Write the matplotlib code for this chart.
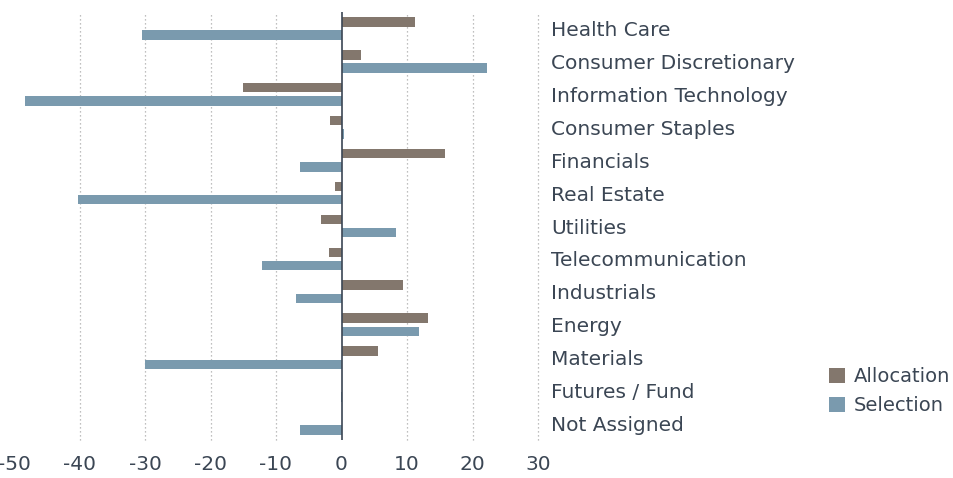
import numpy as np
import matplotlib
matplotlib.use("Agg")
from matplotlib import pyplot as plt

sectors = ['Health Care', 'Consumer Discretionary', 'Information Technology',
           'Consumer Staples', 'Financials', 'Real Estate', 'Utilities',
           'Telecommunication', 'Industrials', 'Energy', 'Materials',
           'Futures / Fund', 'Not Assigned']
allocation = [11.2, 3.0, -15.0, -1.7, 15.8, -1.0, -3.1, -1.9, 9.4, 13.2, 5.6, 0.0, 0.0]
selection = [-30.4, 22.2, -48.3, 0.4, -6.3, -40.2, 8.3, -12.1, -6.9, 11.8, -30.0, -0.1, -6.3]
xticks = [-50, -40, -30, -20, -10, 0, 10, 20, 30]

c_alloc = '#83776d'
c_sel = '#7a9aae'
txt = '#3b4654'
fs = 14.5

fig = plt.figure(figsize=(9.54, 4.78), dpi=100)
ax = fig.add_axes([14/954, 1-440/478, (538-14)/954, (440-12)/478])

y = np.arange(len(sectors))
h = 0.29
ax.barh(y - 0.2, allocation, height=h, color=c_alloc, label='Allocation', zorder=2)
ax.barh(y + 0.2, selection, height=h, color=c_sel, label='Selection', zorder=2)

ax.set_xlim(-50, 30)
ax.set_ylim(len(sectors) - 0.5, -0.5)
ax.set_xticks(xticks)
ax.set_xticklabels([str(v) for v in xticks])
ax.set_yticks(y)
ax.set_yticklabels(sectors)
ax.yaxis.tick_right()
ax.tick_params(axis='y', length=0, pad=9.5, labelsize=fs, labelcolor=txt)
ax.tick_params(axis='x', length=0, pad=11, labelsize=fs, labelcolor=txt)

for s in ax.spines.values():
    s.set_visible(False)
for v in xticks[1:]:
    if v != 0:
        ax.axvline(v, color='#aaaaaa', lw=0.9, ls=(0, (1, 2.2)), zorder=1, clip_on=False)
ax.axvline(0, color='#3b4654', lw=1.2, zorder=3)

leg = fig.legend(loc='upper left', bbox_to_anchor=(812/954, 1-350/478), frameon=False,
                 fontsize=14, handlelength=0.78, handleheight=0.78, handletextpad=0.45,
                 labelspacing=0.5, labelcolor=txt)

fig.savefig('out.png', dpi=100)
